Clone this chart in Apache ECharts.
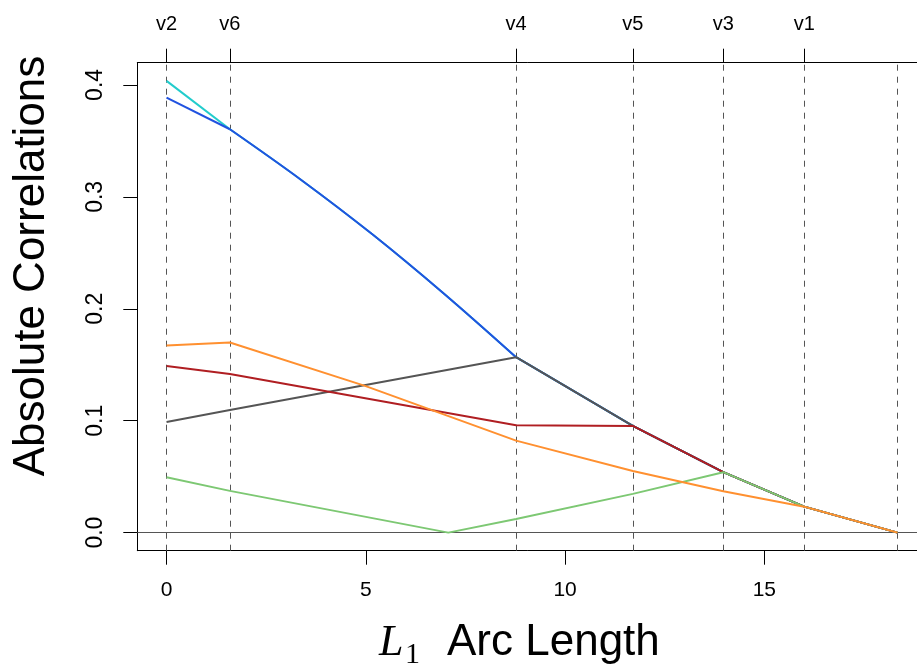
<!DOCTYPE html>
<html>
<head>
<meta charset="utf-8">
<script src="https://cdn.jsdelivr.net/npm/echarts@6/dist/echarts.min.js"></script>
<style>
html,body{margin:0;padding:0;background:#fff;}
#chart{width:917px;height:668px;}
</style>
</head>
<body>
<div id="chart"></div>
<script>
// ---- data ----
const stepNames = ['v2', 'v6', 'v4', 'v5', 'v3', 'v1'];
const stepArc = [0, 1.59, 8.77, 11.70, 13.97, 16.0];
const endArc = 18.34;
const xTicks = [0, 5, 10, 15];
const yTicks = [0, 0.1, 0.2, 0.3, 0.4];

// v2 (cyan) and v6 (blue): separate starts, shared active path afterwards
const v2StartX = [0, 1.59];
const v2StartY = [0.4036, 0.3604];
const v6StartX = [0, 1.59];
const v6StartY = [0.3887, 0.3604];
// shared curved stretch between v6 and v4 entry
const activeCurveX = [1.59, 3.38, 5.18, 6.97, 8.77];
const activeCurveY = [0.3604, 0.3151, 0.2661, 0.2132, 0.1567];
// shared straight tail after v4 entry
const activeTailX = [8.77, 11.70, 13.97, 16.0, 18.34];
const activeTailY = [0.1567, 0.0953, 0.0540, 0.0232, 0];

const v4X = [0, 1.59, 8.77, 11.70, 13.97, 16.0, 18.34];
const v4Y = [0.0989, 0.1096, 0.1567, 0.0953, 0.0540, 0.0232, 0];
const v5X = [0, 1.59, 8.77, 11.70, 13.97, 16.0, 18.34];
const v5Y = [0.1489, 0.1418, 0.0960, 0.0953, 0.0540, 0.0232, 0];
const v3X = [0, 1.59, 7.07, 8.77, 11.70, 13.97, 16.0, 18.34];
const v3Y = [0.0495, 0.0373, 0, 0.0122, 0.0346, 0.0540, 0.0232, 0];
const v1X = [0, 1.59, 4.98, 8.77, 11.70, 13.97, 16.0, 18.34];
const v1Y = [0.1671, 0.1698, 0.1311, 0.0822, 0.0551, 0.0370, 0.0232, 0];

const colors = {v2: '#22CCCC', v6: '#2152E0', v4: '#555555', v5: '#B01E22', v3: '#7DC873', v1: '#FF9030'};

const FONT = "'Liberation Sans', Arial, sans-serif";
const xMin = -0.04 * endArc, xMax = 18.83;
const yMin = -0.01615, yMax = 0.41985;

const chart = echarts.init(document.getElementById('chart'), null, {renderer: 'canvas'});

function mk(name, xs, ys, color, smooth) {
  return {
    type: 'line', name: name,
    data: xs.map((xx, i) => [xx, ys[i]]),
    symbol: 'none', smooth: smooth ? 0.35 : false,
    lineStyle: {color: color, width: 2},
    z: 5, animation: false
  };
}

const lineSeries = [
  mk('v2', v2StartX, v2StartY, colors.v2),
  mk('v2', activeCurveX, activeCurveY, colors.v2, true),
  mk('v2', activeTailX, activeTailY, colors.v2),
  mk('v6', v6StartX, v6StartY, colors.v6),
  mk('v6', activeCurveX, activeCurveY, colors.v6, true),
  mk('v6', activeTailX, activeTailY, colors.v6),
  mk('v4', v4X, v4Y, colors.v4),
  mk('v5', v5X, v5Y, colors.v5),
  mk('v3', v3X, v3Y, colors.v3),
  mk('v1', v1X, v1Y, colors.v1)
];

const refSeries = {
  type: 'line',
  data: [],
  z: 2,
  silent: true,
  markLine: {
    silent: true,
    symbol: ['none', 'none'],
    animation: false,
    label: {show: false},
    data: stepArc.concat([endArc]).map(v => ({xAxis: v, lineStyle: {type: [6, 6], color: '#555', width: 1}}))
      .concat([{yAxis: 0, lineStyle: {type: 'solid', color: '#555', width: 1.2}}])
  }
};

chart.setOption({
  animation: false,
  backgroundColor: '#fff',
  grid: {left: 137.3, right: 0, top: 62.7, bottom: 117.3, show: false},
  xAxis: [{
    type: 'value', position: 'bottom', min: xMin, max: xMax,
    axisLine: {show: true, onZero: false, lineStyle: {color: '#000', width: 1}},
    splitLine: {show: false},
    axisTick: {show: true, inside: false, customValues: xTicks, length: 14, lineStyle: {color: '#000', width: 1}},
    axisLabel: {customValues: xTicks, margin: 29, fontSize: 21, color: '#000', fontFamily: FONT, formatter: v => String(v)}
  }, {
    type: 'value', position: 'top', min: xMin, max: xMax,
    axisLine: {show: true, onZero: false, lineStyle: {color: '#000', width: 1}},
    splitLine: {show: false},
    axisTick: {show: true, inside: false, customValues: stepArc, length: 14, lineStyle: {color: '#000', width: 1}},
    axisLabel: {customValues: stepArc, margin: 28, fontSize: 20, color: '#000', fontFamily: FONT,
      formatter: v => {
        let best = 0;
        stepArc.forEach((s, i) => { if (Math.abs(s - v) < Math.abs(stepArc[best] - v)) best = i; });
        return stepNames[best];
      }}
  }],
  yAxis: {
    type: 'value', min: yMin, max: yMax,
    axisLine: {show: true, onZero: false, lineStyle: {color: '#000', width: 1}},
    splitLine: {show: false},
    axisTick: {show: true, inside: false, customValues: yTicks, length: 14, lineStyle: {color: '#000', width: 1}},
    axisLabel: {customValues: yTicks, margin: 30, rotate: 90, fontSize: 23, color: '#000', fontFamily: FONT,
      formatter: v => v.toFixed(1)}
  },
  series: [refSeries].concat(lineSeries),
  graphic: [
    {type: 'text', x: 32, y: 266, rotation: Math.PI / 2,
      style: {text: 'Absolute Correlations', fontSize: 44, fontFamily: FONT, fill: '#000', align: 'center', verticalAlign: 'middle'}},
    {type: 'text', x: 379, y: 643,
      style: {text: 'L', fontSize: 44, fontStyle: 'italic', fontFamily: "'Liberation Serif', serif", fill: '#000', align: 'left', verticalAlign: 'middle'}},
    {type: 'text', x: 405, y: 655,
      style: {text: '1', fontSize: 30, fontFamily: "'Liberation Serif', serif", fill: '#000', align: 'left', verticalAlign: 'middle'}},
    {type: 'text', x: 447, y: 643,
      style: {text: 'Arc Length', fontSize: 44, fontFamily: FONT, fill: '#000', align: 'left', verticalAlign: 'middle'}}
  ]
});
</script>
</body>
</html>
